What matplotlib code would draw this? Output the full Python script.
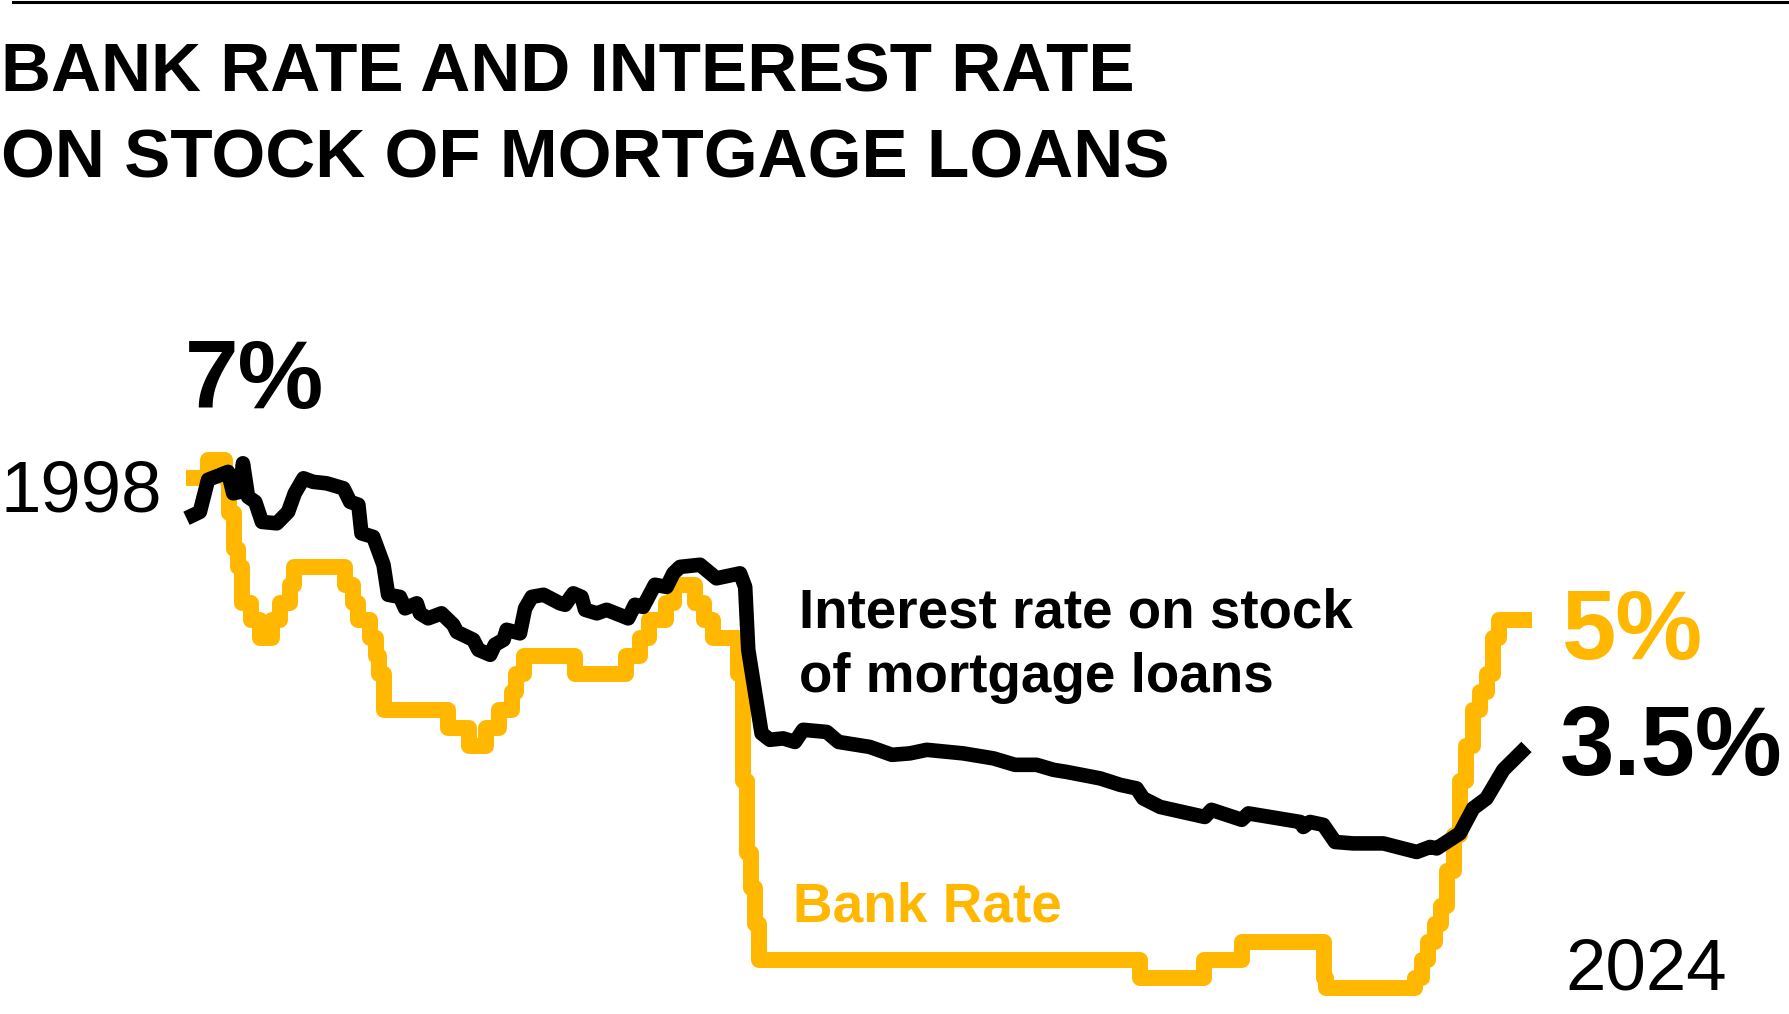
import numpy as np
import pandas as pd
import matplotlib
matplotlib.use('Agg')
from matplotlib import pyplot as plt

W, H = 1789, 1014
YELLOW = '#FFB700'

# Bank Rate: dates of change and the new rate (%)
bank_dates = ['1998-01-01', '1998-06-04', '1998-10-08', '1998-11-05', '1998-12-10',
              '1999-01-07', '1999-02-04', '1999-04-08', '1999-06-10', '1999-09-08', '1999-11-04',
              '2000-01-13', '2000-02-10',
              '2001-02-08', '2001-04-05', '2001-05-10', '2001-08-02', '2001-09-18', '2001-10-04', '2001-11-08',
              '2003-02-06', '2003-07-10', '2003-11-06',
              '2004-02-05', '2004-05-06', '2004-06-10', '2004-08-05',
              '2005-08-04',
              '2006-08-03', '2006-11-09',
              '2007-01-11', '2007-05-10', '2007-07-05', '2007-12-06',
              '2008-02-07', '2008-04-10', '2008-10-08', '2008-11-06', '2008-12-04',
              '2009-01-08', '2009-02-05', '2009-03-05',
              '2016-08-04', '2017-11-02', '2018-08-02',
              '2020-03-11', '2020-03-19', '2021-12-16',
              '2022-02-03', '2022-03-17', '2022-05-05', '2022-06-16', '2022-08-04', '2022-09-22', '2022-11-03', '2022-12-15',
              '2023-02-02', '2023-03-23', '2023-05-11', '2023-06-22', '2023-08-03',
              '2024-03-31']
bank_rates = [7.25, 7.5, 7.25, 6.75, 6.25,
              6.0, 5.5, 5.25, 5.0, 5.25, 5.5,
              5.75, 6.0,
              5.75, 5.5, 5.25, 5.0, 4.75, 4.5, 4.0,
              3.75, 3.5, 3.75,
              4.0, 4.25, 4.5, 4.75,
              4.5,
              4.75, 5.0,
              5.25, 5.5, 5.75, 5.5,
              5.25, 5.0, 4.5, 3.0, 2.0,
              1.5, 1.0, 0.5,
              0.25, 0.5, 0.75,
              0.25, 0.1, 0.25,
              0.5, 0.75, 1.0, 1.25, 1.75, 2.25, 3.0, 3.5,
              4.0, 4.25, 4.5, 5.0, 5.25,
              5.25]

# interest rate on stock of mortgage loans (%)
mort_years = [1998.01, 1998.27, 1998.43, 1998.82, 1998.92, 1999.05, 1999.11, 1999.21, 1999.35, 1999.48,
              1999.77, 1999.99, 2000.12, 2000.29, 2000.48, 2000.74, 2001.07, 2001.20, 2001.36, 2001.42,
              2001.65, 2001.85, 2001.94, 2002.17, 2002.27, 2002.50, 2002.56, 2002.72, 2002.98, 2003.21,
              2003.28, 2003.60, 2003.70, 2003.93, 2004.02, 2004.19, 2004.25, 2004.51, 2004.61, 2004.74,
              2004.97, 2005.29, 2005.39, 2005.55, 2005.71, 2005.78, 2006.01, 2006.20, 2006.62, 2006.75,
              2006.91, 2007.14, 2007.37, 2007.50, 2007.63, 2008.02, 2008.34, 2008.80, 2008.90, 2008.96,
              2009.22, 2009.38, 2009.64, 2009.87, 2010.03, 2010.49, 2010.72, 2011.33, 2011.76, 2012.11,
              2012.44, 2013.15, 2013.74, 2014.16, 2014.58, 2014.91, 2015.17, 2015.82, 2016.21, 2016.53,
              2016.66, 2016.99, 2017.86, 2017.99, 2018.58, 2018.71, 2019.72, 2019.78, 2019.91, 2020.17,
              2020.40, 2020.75, 2021.34, 2021.99, 2022.25, 2022.38, 2022.83, 2023.09, 2023.35, 2023.68,
              2024.13]
mort_rates = [6.68, 6.77, 7.22, 7.33, 7.03, 7.05, 7.45, 6.98, 6.91, 6.63,
              6.61, 6.77, 7.03, 7.24, 7.19, 7.17, 7.10, 6.91, 6.87, 6.47,
              6.42, 6.03, 5.61, 5.58, 5.42, 5.49, 5.35, 5.28, 5.35, 5.19,
              5.09, 4.98, 4.84, 4.77, 4.91, 4.98, 5.12, 5.07, 5.42, 5.58,
              5.61, 5.49, 5.47, 5.63, 5.58, 5.40, 5.35, 5.40, 5.28, 5.47,
              5.44, 5.75, 5.72, 5.91, 6.00, 6.03, 5.84, 5.91, 5.72, 4.84,
              3.67, 3.58, 3.60, 3.55, 3.72, 3.69, 3.55, 3.48, 3.37, 3.39,
              3.44, 3.39, 3.32, 3.23, 3.23, 3.16, 3.13, 3.04, 2.95, 2.90,
              2.76, 2.64, 2.50, 2.60, 2.46, 2.55, 2.43, 2.36, 2.43, 2.39,
              2.15, 2.13, 2.13, 2.01, 2.08, 2.06, 2.27, 2.62, 2.76, 3.16,
              3.48]


def to_year(s):
    d = pd.Timestamp(s)
    return d.year + (d.dayofyear - 1) / 365.0


bank_x = [to_year(d) for d in bank_dates]

fig = plt.figure(figsize=(W / 100, H / 100), dpi=100)
fig.patch.set_facecolor('white')

# axes placed so the data area lines up with the original
x0, x1 = 1998.0, 2024.25
px_per_year, px_per_pct = 51.3, 71.45
left_px, zero_px = 186, 995.6
ax = fig.add_axes([left_px / W, (H - zero_px) / H,
                   (x1 - x0) * px_per_year / W, 8 * px_per_pct / H])
ax.set_xlim(x0, x1)
ax.set_ylim(0, 8)
ax.axis('off')

ax.plot(bank_x, bank_rates, drawstyle='steps-post', color=YELLOW, lw=11.5,
        solid_joinstyle='round', solid_capstyle='butt', clip_on=False, zorder=2)
ax.plot(mort_years, mort_rates, color='black', lw=10.5,
        solid_joinstyle='round', solid_capstyle='butt', clip_on=False, zorder=3)

# rule at the top
fig.add_artist(plt.Line2D([13 / W, 1], [1 - 1.5 / H, 1 - 1.5 / H], color='black', lw=2.2))

FONT = 'Liberation Sans'


def put(x, y, s, cap, weight='bold', color='black'):
    # x = left edge, y = baseline, in pixels from top-left; cap = cap height in px
    size = cap / 0.716 * 0.72
    fig.text(x / W, 1 - y / H, s, fontsize=size, fontweight=weight, color=color,
             family=FONT, ha='left', va='baseline')


put(1, 92, 'BANK RATE AND INTEREST RATE', 49.6)
put(1, 178, 'ON STOCK OF MORTGAGE LOANS', 49.6)

put(185, 408, '7%', 69)
put(0, 512, '1998', 52, weight='normal')

put(799, 628, 'Interest rate on stock', 39.2)
put(799, 692, 'of mortgage loans', 39.2)
put(793, 921, 'Bank Rate', 39.4, color=YELLOW)

put(1562, 659, '5%', 70, color=YELLOW)
put(1560, 775, '3.5%', 70)
put(1565, 990, '2024', 52, weight='normal')

fig.savefig('out.png', dpi=100, facecolor='white')
